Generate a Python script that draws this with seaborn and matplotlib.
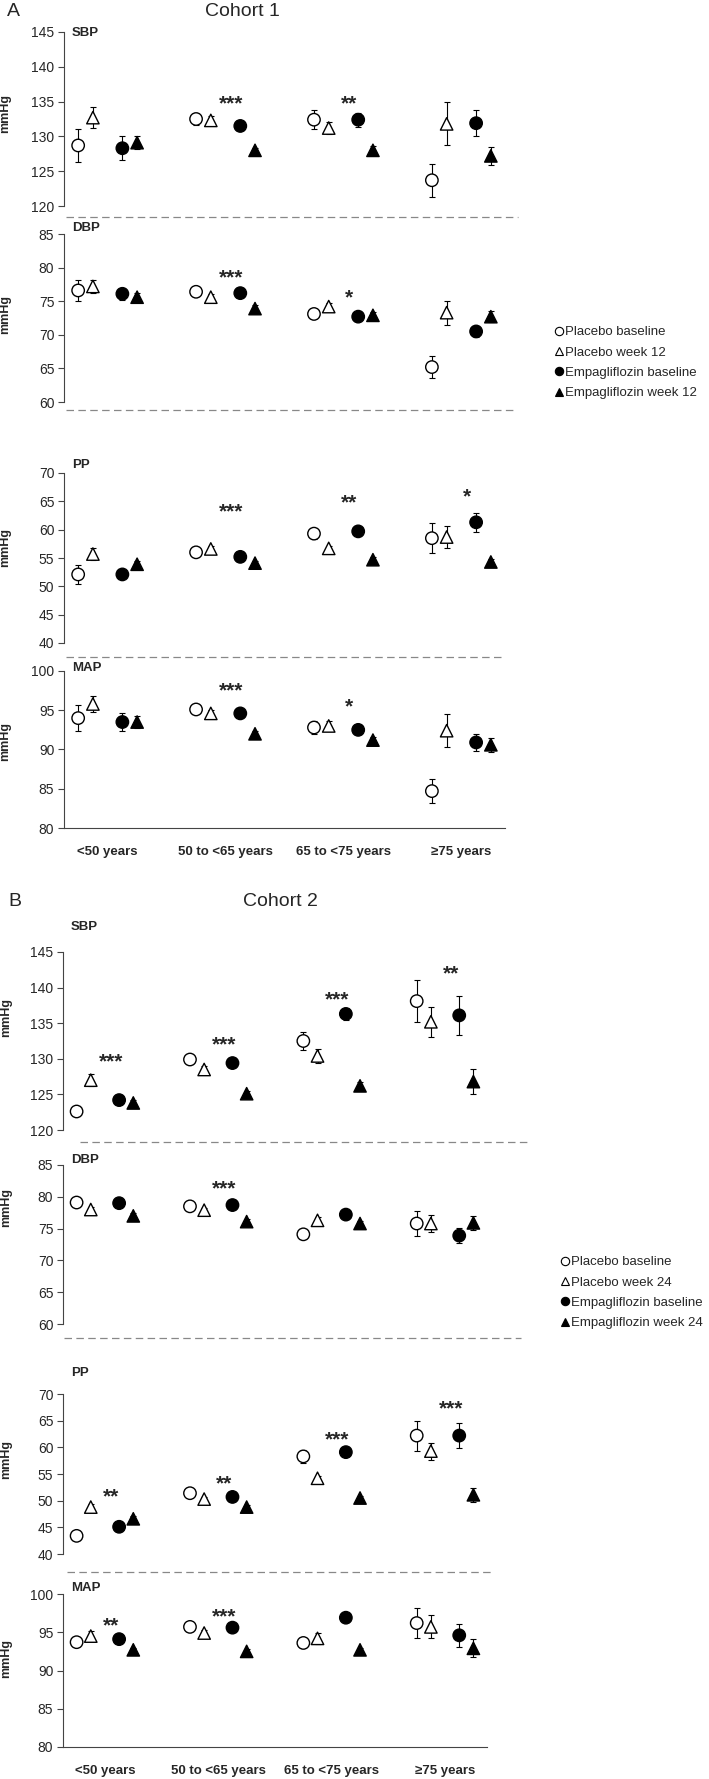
import numpy as np
import pandas as pd
import seaborn as sns
import matplotlib.pyplot as plt
from matplotlib.lines import Line2D

age_groups = ['<50 years', '50 to <65 years', '65 to <75 years', '\u226575 years']
series_c1 = ['Placebo baseline', 'Placebo week 12', 'Empagliflozin baseline', 'Empagliflozin week 12']
series_c2 = ['Placebo baseline', 'Placebo week 24', 'Empagliflozin baseline', 'Empagliflozin week 24']

# rows = series (placebo base, placebo wk, empa base, empa wk), cols = age groups
c1_sbp = [[128.7, 132.5, 132.4, 123.7],
          [132.7, 132.3, 131.2, 131.8],
          [128.3, 131.5, 132.4, 131.9],
          [129.1, 128.0, 128.0, 127.2]]
c1_sbp_err = [[2.4, 0.8, 1.4, 2.4],
              [1.5, 0.7, 0.8, 3.1],
              [1.7, 0.5, 1.0, 1.9],
              [0.9, 0.4, 0.6, 1.3]]
c1_dbp = [[76.6, 76.4, 73.1, 65.2],
          [77.2, 75.6, 74.2, 73.3],
          [76.1, 76.2, 72.7, 70.5],
          [75.6, 73.9, 72.9, 72.7]]
c1_dbp_err = [[1.6, 0.5, 0.4, 1.6],
              [1.0, 0.4, 0.6, 1.8],
              [0.9, 0.5, 0.5, 0.8],
              [0.6, 0.5, 0.5, 0.8]]
c1_pp = [[52.1, 56.0, 59.3, 58.5],
         [55.7, 56.6, 56.7, 58.7],
         [52.1, 55.2, 59.7, 61.3],
         [53.9, 54.1, 54.7, 54.3]]
c1_pp_err = [[1.6, 0.5, 0.9, 2.6],
             [1.0, 0.5, 0.5, 1.9],
             [0.6, 0.5, 0.6, 1.7],
             [0.5, 0.4, 0.5, 0.6]]
c1_map = [[94.0, 95.1, 92.8, 84.7],
          [95.8, 94.6, 93.0, 92.4],
          [93.5, 94.6, 92.5, 90.9],
          [93.5, 92.0, 91.2, 90.6]]
c1_map_err = [[1.7, 0.4, 0.8, 1.5],
              [1.0, 0.4, 0.6, 2.1],
              [1.2, 0.5, 0.5, 1.1],
              [0.8, 0.3, 0.4, 0.9]]

c2_sbp = [[122.6, 129.9, 132.5, 138.1],
          [127.0, 128.5, 130.4, 135.2],
          [124.2, 129.4, 136.3, 136.1],
          [123.8, 125.1, 126.2, 126.8]]
c2_sbp_err = [[0.4, 0.4, 1.3, 2.9],
              [0.8, 0.5, 1.0, 2.1],
              [0.5, 0.5, 0.8, 2.7],
              [0.4, 0.4, 0.6, 1.7]]
c2_dbp = [[79.1, 78.5, 74.1, 75.8],
          [78.0, 77.9, 76.3, 75.8],
          [79.0, 78.7, 77.2, 73.9],
          [77.0, 76.1, 75.8, 75.9]]
c2_dbp_err = [[0.4, 0.4, 0.4, 2.0],
              [0.4, 0.4, 0.5, 1.3],
              [0.5, 0.5, 0.5, 1.2],
              [0.4, 0.4, 0.4, 1.1]]
c2_pp = [[43.4, 51.4, 58.3, 62.2],
         [48.8, 50.3, 54.2, 59.3],
         [45.1, 50.7, 59.1, 62.2],
         [46.6, 48.8, 50.5, 51.1]]
c2_pp_err = [[0.4, 0.4, 1.2, 2.8],
             [0.5, 0.4, 0.5, 1.6],
             [0.5, 0.5, 0.5, 2.3],
             [0.5, 0.4, 0.4, 1.3]]
c2_map = [[93.7, 95.7, 93.6, 96.2],
          [94.5, 94.9, 94.2, 95.7],
          [94.1, 95.6, 96.9, 94.6],
          [92.7, 92.5, 92.7, 92.9]]
c2_map_err = [[0.4, 0.4, 0.7, 2.0],
              [0.6, 0.4, 0.7, 1.5],
              [0.5, 0.5, 0.5, 1.5],
              [0.3, 0.3, 0.3, 1.2]]

# significance marks: (age group index, y value, text)
c1_sbp_stars = [(1, 135.6, '***'), (2, 135.6, '**')]
c1_dbp_stars = [(1, 79.4, '***'), (2, 76.4, '*')]
c1_pp_stars = [(1, 64.3, '***'), (2, 65.9, '**'), (3, 66.9, '*')]
c1_map_stars = [(1, 98.3, '***'), (2, 96.2, '*')]
c2_sbp_stars = [(0, 130.4, '***'), (1, 132.9, '***'), (2, 139.2, '***'), (3, 142.8, '**')]
c2_dbp_stars = [(1, 82.2, '***')]
c2_pp_stars = [(0, 51.9, '**'), (1, 54.3, '**'), (2, 62.6, '***'), (3, 68.3, '***')]
c2_map_stars = [(0, 96.6, '**'), (1, 97.8, '***')]

sns.set_style('white')
plt.rcParams['font.family'] = ['Liberation Sans', 'DejaVu Sans']

W, H = 709, 1779
fig = plt.figure(figsize=(W / 100, H / 100), dpi=100)


def rect(left, top, right, bottom):
    return [left / W, 1 - bottom / H, (right - left) / W, (bottom - top) / H]


offsets = [-0.25, -0.125, 0.125, 0.25]
faces = ['white', 'white', 'black', 'black']
shapes = ['o', '^', 'o', '^']


def draw_panel(box, means, errs, names, stars, lo, hi, show_x, label_y):
    ax = fig.add_axes(rect(*box))
    rows = []
    for si, name in enumerate(names):
        for gi in range(len(age_groups)):
            rows.append({'x': gi + offsets[si], 'value': means[si][gi],
                         'err': errs[si][gi], 'series': name})
    df = pd.DataFrame(rows)
    ax.errorbar(df['x'], df['value'], yerr=df['err'], fmt='none', ecolor='black',
                elinewidth=0.8, capsize=2.3, capthick=0.8, zorder=2)
    sns.scatterplot(data=df, x='x', y='value', hue='series', style='series',
                    palette=dict(zip(names, faces)), markers=dict(zip(names, shapes)),
                    s=80, edgecolor='black', linewidth=1.0, legend=False, ax=ax, zorder=3)
    for gi, yv, txt in stars:
        ax.annotate(txt, (gi + 0.05, yv), xytext=(0, -8.5), textcoords='offset points',
                    ha='center', va='baseline', fontsize=15, fontweight='bold')
    ax.set_xlim(-0.37, 3.37)
    ax.set_ylim(lo, hi)
    ax.set_yticks(np.arange(lo, hi + 1, 5))
    ax.set_xlabel('')
    ax.set_ylabel('mmHg', fontsize=9, fontweight='bold')
    ax.yaxis.set_label_coords(-0.12, label_y)
    for s in ['top', 'right']:
        ax.spines[s].set_visible(False)
    for s in ['left', 'bottom']:
        ax.spines[s].set_color('#444444')
        ax.spines[s].set_linewidth(0.8)
    ax.tick_params(axis='y', length=4, width=0.8, color='#444444', labelsize=10, pad=3, left=True)
    if show_x:
        ax.set_xticks(range(len(age_groups)))
        ax.set_xticklabels(age_groups, fontsize=9.5, fontweight='bold')
        ax.tick_params(axis='x', length=0, pad=13)
    else:
        ax.set_xticks([])
        ax.spines['bottom'].set_visible(False)
    ax.patch.set_alpha(0)
    return ax


panels = [
    ((64, 32, 505, 206), c1_sbp, c1_sbp_err, series_c1, c1_sbp_stars, 120, 145, False, 0.53, 'SBP', 33),
    ((64, 234, 505, 402), c1_dbp, c1_dbp_err, series_c1, c1_dbp_stars, 60, 85, False, 0.52, 'DBP', 228),
    ((64, 473, 505, 643), c1_pp, c1_pp_err, series_c1, c1_pp_stars, 40, 70, False, 0.56, 'PP', 465),
    ((64, 671, 505, 828), c1_map, c1_map_err, series_c1, c1_map_stars, 80, 100, True, 0.55, 'MAP', 668),
    ((63, 952, 487, 1130), c2_sbp, c2_sbp_err, series_c2, c2_sbp_stars, 120, 145, False, 0.63, 'SBP', 927),
    ((63, 1165, 487, 1324), c2_dbp, c2_dbp_err, series_c2, c2_dbp_stars, 60, 85, False, 0.73, 'DBP', 1160),
    ((63, 1394, 487, 1554), c2_pp, c2_pp_err, series_c2, c2_pp_stars, 40, 70, False, 0.59, 'PP', 1373),
    ((63, 1594, 487, 1747), c2_map, c2_map_err, series_c2, c2_map_stars, 80, 100, True, 0.58, 'MAP', 1588),
]
for box, m, e, names, st, lo, hi, sx, ly, name, ty in panels:
    draw_panel(box, m, e, names, st, lo, hi, sx, ly)
    fig.text((box[0] + 8) / W, 1 - ty / H, name, fontsize=9.5, fontweight='bold',
             ha='left', va='center')

# dashed separators between panels
for y, x0, x1 in [(217, 66, 518), (410, 66, 516), (657, 66, 505),
                  (1142, 80, 527), (1338, 64, 521), (1572, 67, 492)]:
    fig.add_artist(Line2D([x0 / W, x1 / W], [1 - y / H, 1 - y / H], transform=fig.transFigure,
                          color='#888888', lw=0.9, dashes=(6, 3.5)))

fig.text(7 / W, 1 - 12 / H, 'A', fontsize=14, ha='left', va='center')
fig.text(242 / W, 1 - 12 / H, 'Cohort 1', fontsize=14, ha='center', va='center')
fig.text(8 / W, 1 - 902 / H, 'B', fontsize=14, ha='left', va='center')
fig.text(280 / W, 1 - 902 / H, 'Cohort 2', fontsize=14, ha='center', va='center')


def legend_handles(names):
    return [Line2D([], [], ls='none', marker=shp, markersize=6, markerfacecolor=fc,
                   markeredgecolor='black', markeredgewidth=0.8, label=n)
            for n, shp, fc in zip(names, shapes, faces)]


for names, top, x in [(series_c1, 326, 555), (series_c2, 1256, 561)]:
    fig.legend(handles=legend_handles(names), loc='upper left',
               bbox_to_anchor=(x / W, 1 - top / H), frameon=False, fontsize=9.5,
               handlelength=0.6, handletextpad=0.15, labelspacing=0.62,
               borderpad=0, borderaxespad=0)

fig.savefig('out.png', dpi=100)
